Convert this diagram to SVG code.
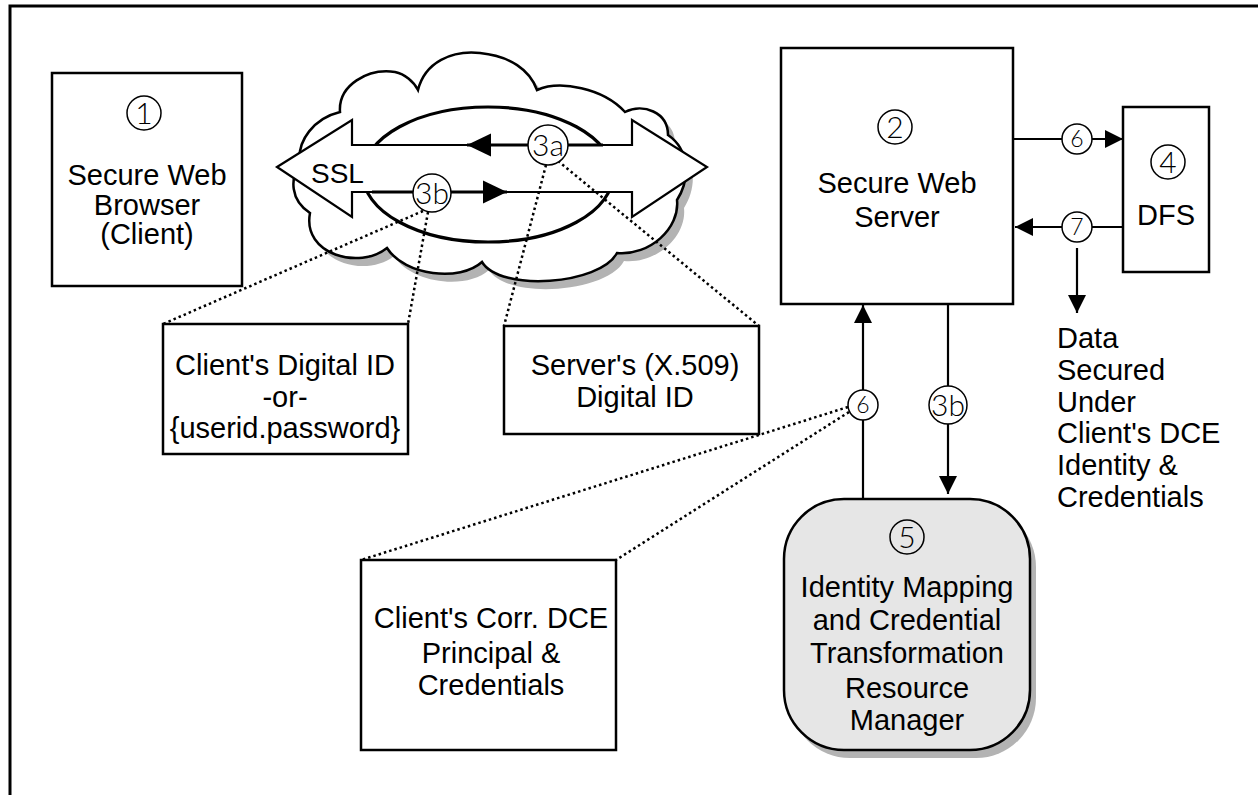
<svg xmlns="http://www.w3.org/2000/svg" width="1258" height="795" viewBox="0 0 1258 795">
  <style>
    .box { fill: #ffffff; stroke: #000000; stroke-width: 2.5; }
    .lbl { font-family: "Liberation Sans", Arial, sans-serif; font-size: 29px; fill: #000000; text-anchor: middle; }
    .num { font-family: "Lato", "Liberation Sans", sans-serif; font-weight: 300; font-size: 30px; fill: #000000; text-anchor: middle; }
    .numc { fill: none; stroke: #000000; stroke-width: 1.5; }
    .tag { fill: #ffffff; stroke: #000000; stroke-width: 1.5; }
    .tagt { font-family: "Lato", "Liberation Sans", sans-serif; font-weight: 300; fill: #000000; text-anchor: middle; }
    .wire { fill: none; stroke: #000000; stroke-width: 2.2; }
    .thick { fill: none; stroke: #000000; stroke-width: 3.2; }
    .dots { fill: none; stroke: #000000; stroke-width: 2.5; stroke-dasharray: 2.5 3; }
    .shadow { fill: #b3b3b3; stroke: none; }
  </style>
  <defs>
    <marker id="ah" markerUnits="userSpaceOnUse" markerWidth="18" markerHeight="18" viewBox="0 0 16 16" refX="16" refY="8" orient="auto">
      <path d="M0,0 L16,8 L0,16 Z" fill="#000000"/>
    </marker>
    <marker id="ahBig" markerUnits="userSpaceOnUse" markerWidth="24" markerHeight="24" viewBox="0 0 23 22" refX="23" refY="11" orient="auto">
      <path d="M0,0 L23,11 L0,22 Z" fill="#000000"/>
    </marker>
    <path id="cloudShape" d="M300,165 C296,140 315,118 340,112 C338,85 368,68 395,72 C405,74 414,82 418,90 C425,62 452,50 480,53 C510,56 530,70 537,90 C560,80 603,88 625,112 C643,103 668,112 668,135 C690,150 690,180 677,200 C680,228 650,256 617,253 C600,285 500,292 482,262 C460,282 405,276 387,248 C360,270 302,255 310,213 C290,200 290,178 300,165 Z"/>
  </defs>

  <!-- frame -->
  <path d="M10,795 L10,6 L1258,6" fill="none" stroke="#000000" stroke-width="3"/>

  <!-- SSL channel over the network cloud -->
  <g id="network">
    <use href="#cloudShape" class="shadow" transform="translate(7,8)"/>
    <use href="#cloudShape" fill="#ffffff" stroke="#000000" stroke-width="2.5"/>
    <ellipse cx="488" cy="174.5" rx="125" ry="67.5" fill="none" stroke="#000000" stroke-width="3.2"/>
    <polygon points="277,167 352,120 352,145 632,145 632,120 707,167 632,217 632,192 352,192 352,217" fill="#ffffff" stroke="#000000" stroke-width="2.2"/>
    <text x="311" y="183" font-family="Liberation Sans, Arial, sans-serif" font-size="28">SSL</text>
  </g>

  <!-- nodes -->
  <g id="browser">
    <rect class="box" x="52" y="73" width="190" height="213"/>
    <circle class="numc" cx="144" cy="113" r="17"/>
    <text class="num" x="144" y="124">1</text>
    <text class="lbl" x="147" y="185">Secure Web</text>
    <text class="lbl" x="147" y="215">Browser</text>
    <text class="lbl" x="147" y="244">(Client)</text>
  </g>

  <g id="webserver">
    <rect class="box" x="781" y="48" width="232" height="256"/>
    <circle class="numc" cx="895" cy="127" r="17"/>
    <text class="num" x="895" y="138">2</text>
    <text class="lbl" x="897" y="193">Secure Web</text>
    <text class="lbl" x="897" y="227">Server</text>
  </g>

  <g id="dfs">
    <rect class="box" x="1123" y="107" width="86" height="165"/>
    <circle class="numc" cx="1168" cy="162" r="17"/>
    <text class="num" x="1168" y="173">4</text>
    <text class="lbl" x="1166" y="225">DFS</text>
  </g>

  <g id="client-id">
    <rect class="box" x="163" y="324" width="245" height="130"/>
    <text class="lbl" x="285" y="375">Client's Digital ID</text>
    <text class="lbl" x="285" y="407">-or-</text>
    <text class="lbl" x="285" y="438">{userid.password}</text>
  </g>

  <g id="server-id">
    <rect class="box" x="504" y="326" width="255" height="108"/>
    <text class="lbl" x="635" y="375">Server's (X.509)</text>
    <text class="lbl" x="635" y="407">Digital ID</text>
  </g>

  <g id="dce-principal">
    <rect class="box" x="361" y="560" width="255" height="190"/>
    <text class="lbl" x="491" y="628">Client's Corr. DCE</text>
    <text class="lbl" x="491" y="663">Principal &amp;</text>
    <text class="lbl" x="491" y="695">Credentials</text>
  </g>

  <g id="mapping-rm">
    <rect class="shadow" x="790" y="507" width="246" height="251" rx="60" ry="60"/>
    <rect x="784" y="499" width="246" height="251" rx="60" ry="60" fill="#e6e6e6" stroke="#000000" stroke-width="2.5"/>
    <circle class="numc" cx="907" cy="537" r="17"/>
    <text class="num" x="907" y="548">5</text>
    <text class="lbl" x="907" y="597">Identity Mapping</text>
    <text class="lbl" x="907" y="630">and Credential</text>
    <text class="lbl" x="907" y="663">Transformation</text>
    <text class="lbl" x="907" y="698">Resource</text>
    <text class="lbl" x="907" y="730">Manager</text>
  </g>

  <g id="dfs-note">
    <text class="lbl" style="text-anchor:start" x="1057" y="348">Data</text>
    <text class="lbl" style="text-anchor:start" x="1057" y="380">Secured</text>
    <text class="lbl" style="text-anchor:start" x="1057" y="412">Under</text>
    <text class="lbl" style="text-anchor:start" x="1057" y="443">Client's DCE</text>
    <text class="lbl" style="text-anchor:start" x="1057" y="475">Identity &amp;</text>
    <text class="lbl" style="text-anchor:start" x="1057" y="507">Credentials</text>
  </g>

  <!-- connectors -->
  <g id="connectors">
    <!-- certificate exchange inside the SSL channel -->
    <line class="thick" x1="603" y1="145" x2="467" y2="145" marker-end="url(#ahBig)"/>
    <line class="thick" x1="372" y1="192" x2="507" y2="192" marker-end="url(#ahBig)"/>
    <line class="wire" x1="507" y1="192" x2="632" y2="192"/>

    <!-- dotted call-outs -->
    <line class="dots" x1="423" y1="211" x2="163" y2="324"/>
    <line class="dots" x1="428" y1="212" x2="408" y2="324"/>
    <line class="dots" x1="546" y1="165" x2="504" y2="326"/>
    <line class="dots" x1="558" y1="161" x2="759" y2="326"/>
    <line class="dots" x1="848" y1="407" x2="361" y2="560"/>
    <line class="dots" x1="849" y1="412" x2="616" y2="560"/>

    <!-- server <-> mapping resource manager -->
    <line class="wire" x1="863" y1="499" x2="863" y2="305" marker-end="url(#ah)"/>
    <line class="wire" x1="948" y1="304" x2="948" y2="494" marker-end="url(#ah)"/>

    <!-- server <-> DFS -->
    <line class="wire" x1="1013" y1="139" x2="1123" y2="139" marker-end="url(#ah)"/>
    <line class="wire" x1="1123" y1="227" x2="1015" y2="227" marker-end="url(#ah)"/>
    <line class="wire" x1="1077" y1="248" x2="1077" y2="313" marker-end="url(#ah)"/>

    <!-- step tags -->
    <circle class="tag" cx="548" cy="145" r="20"/>
    <text class="tagt" x="548" y="156" font-size="30">3a</text>
    <circle class="tag" cx="432" cy="193" r="19"/>
    <text class="tagt" x="432" y="204" font-size="30">3b</text>
    <circle class="tag" cx="863" cy="405" r="15"/>
    <text class="tagt" x="863" y="413" font-size="23">6</text>
    <circle class="tag" cx="948" cy="405" r="19"/>
    <text class="tagt" x="948" y="416" font-size="30">3b</text>
    <circle class="tag" cx="1077" cy="139" r="15"/>
    <text class="tagt" x="1077" y="147" font-size="23">6</text>
    <circle class="tag" cx="1077" cy="227" r="15"/>
    <text class="tagt" x="1077" y="235" font-size="23">7</text>
  </g>
</svg>
